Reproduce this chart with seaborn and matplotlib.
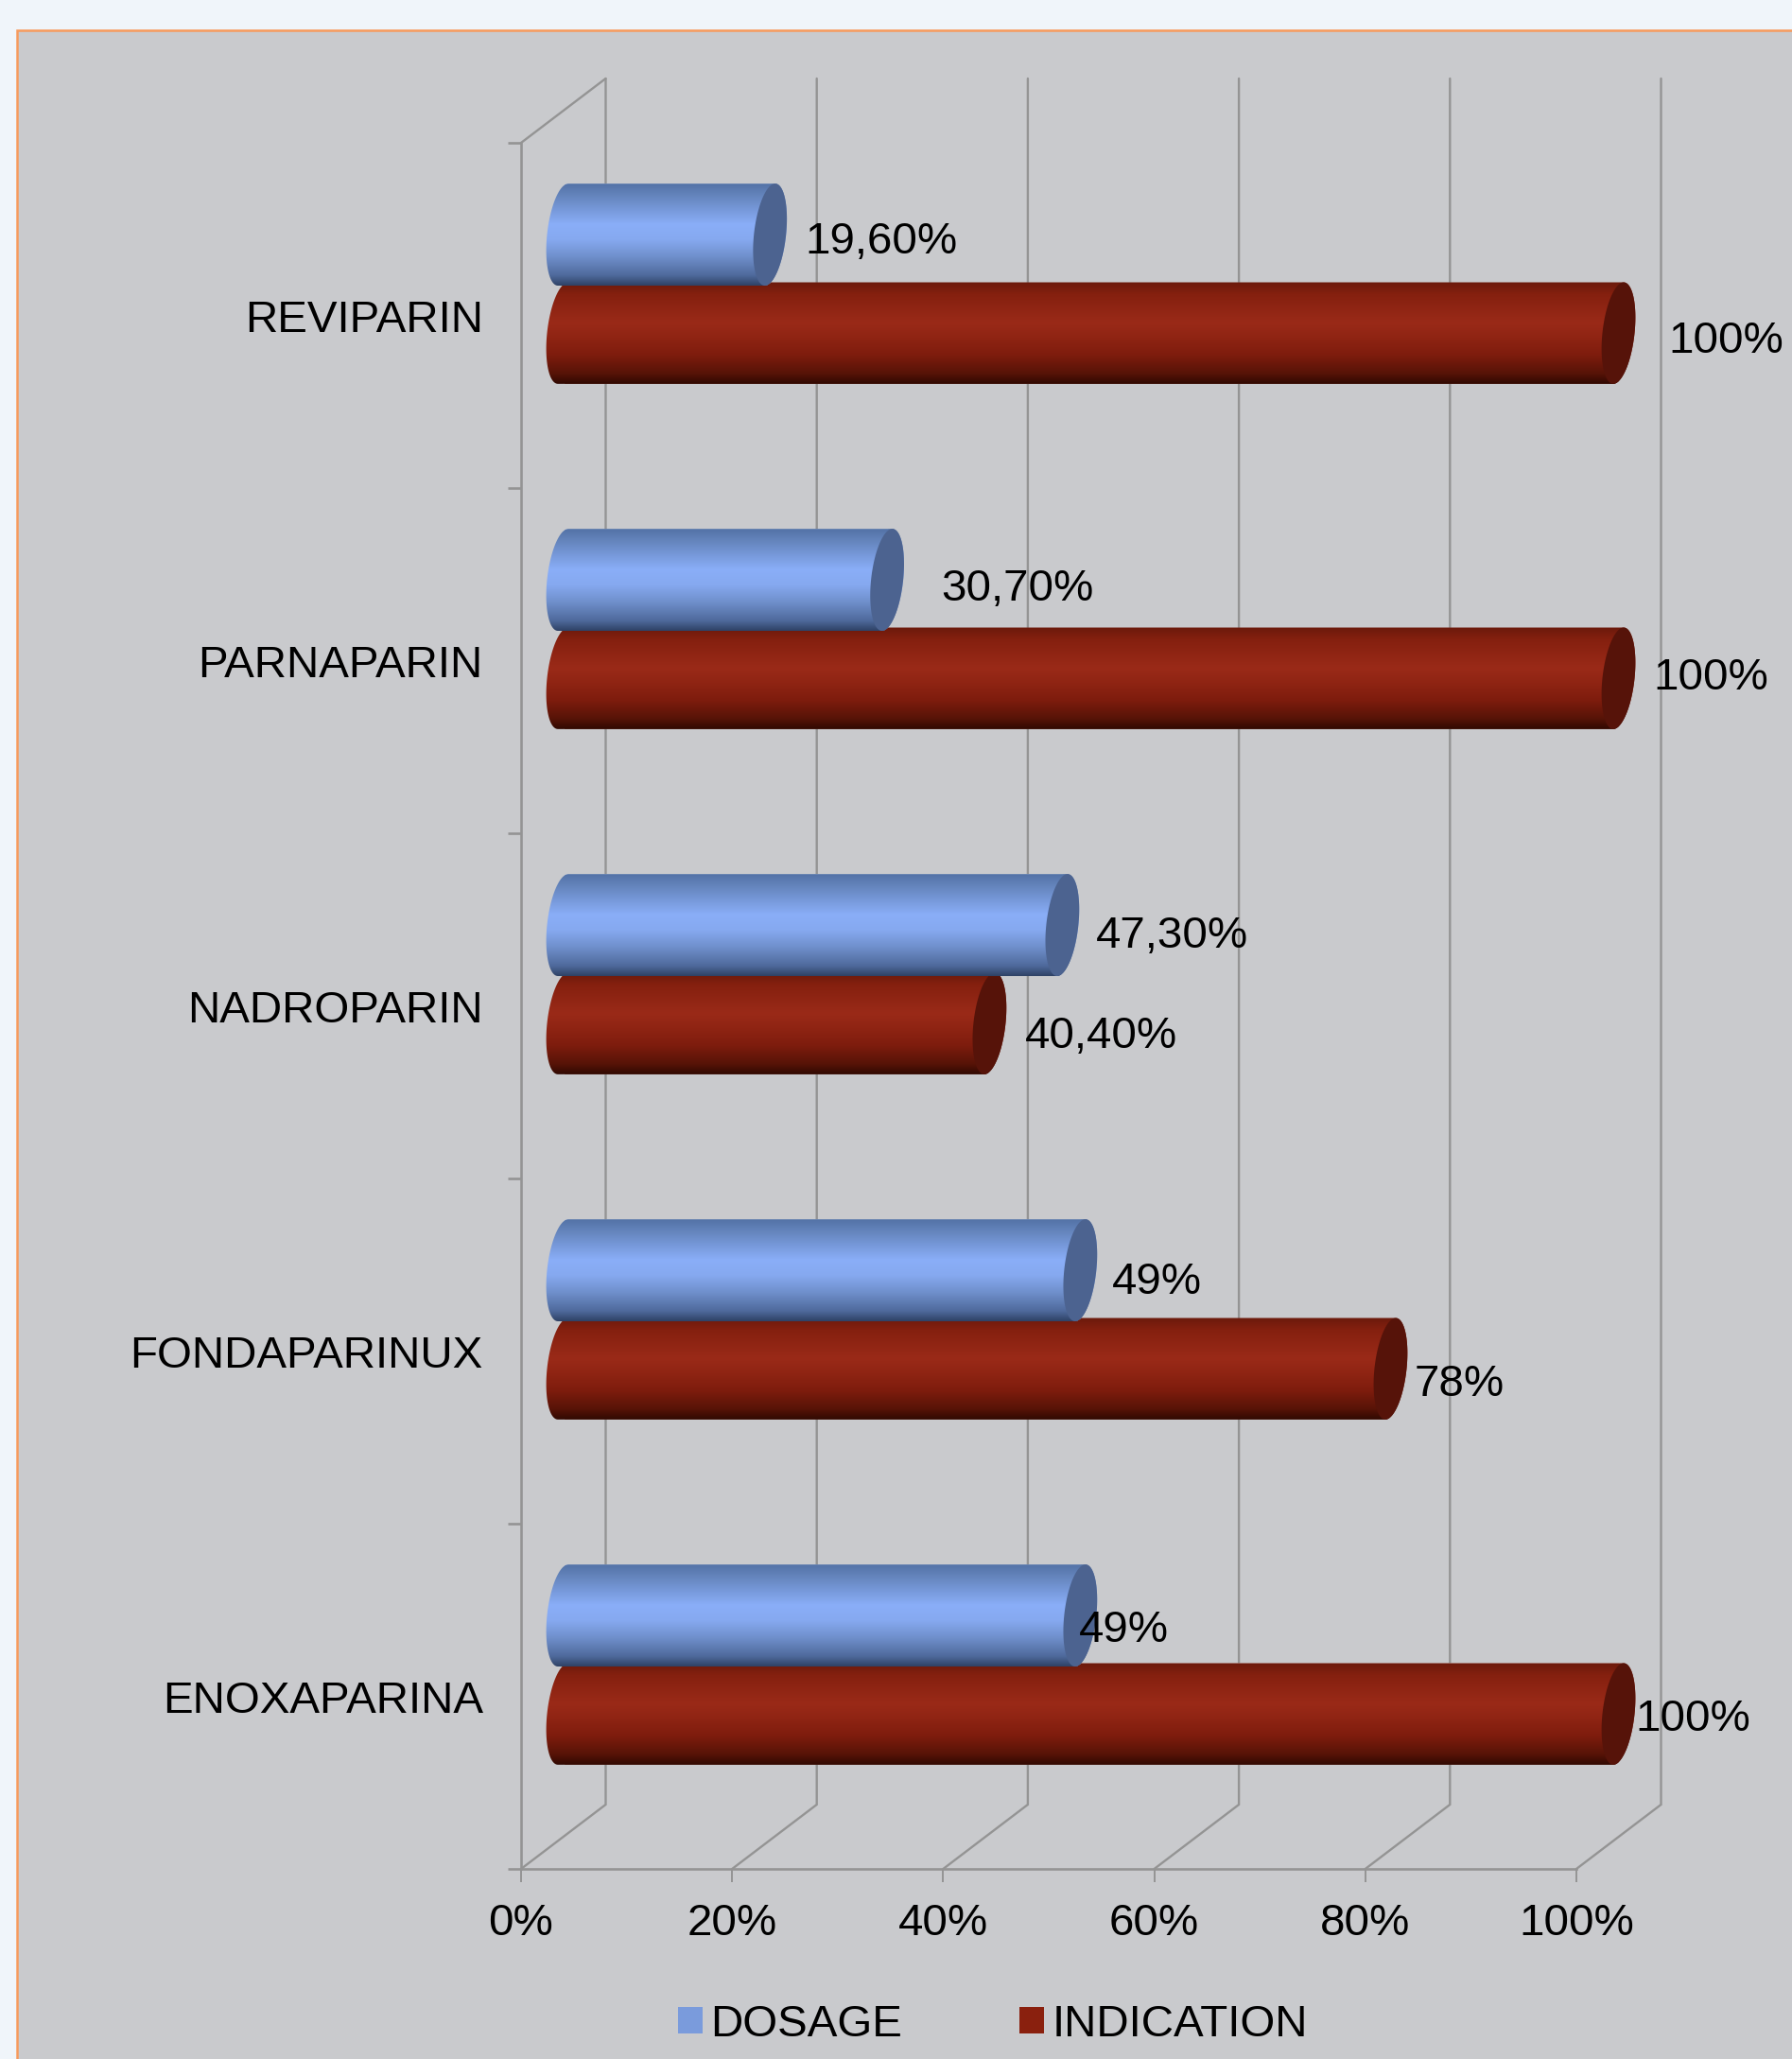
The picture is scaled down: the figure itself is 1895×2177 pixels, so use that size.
import numpy as np
import pandas as pd
import seaborn as sns
import matplotlib
matplotlib.use("Agg")
import matplotlib.pyplot as plt
from matplotlib.colors import LinearSegmentedColormap
from matplotlib.patches import Patch, PathPatch, Rectangle
from matplotlib.path import Path

# ---- data ----
drugs = ["REVIPARIN", "PARNAPARIN", "NADROPARIN", "FONDAPARINUX", "ENOXAPARINA"]
dosage = [19.6, 30.7, 47.3, 49, 49]
indication = [100, 100, 40.4, 78.4, 100]
dosage_labels = ["19,60%", "30,70%", "47,30%", "49%", "49%"]
indication_labels = ["100%", "100%", "40,40%", "78%", "100%"]
series_names = ["DOSAGE", "INDICATION"]
x_ticks = [0, 20, 40, 60, 80, 100]
x_tick_labels = ["0%", "20%", "40%", "60%", "80%", "100%"]

# ---- style ----
W, H = 1895, 2177
FONT = "Liberation Sans"
FS = 34.2
GREY = "#949494"
sns.set_theme(style="white")
plt.rcParams["font.family"] = [FONT, "DejaVu Sans"]

fig = plt.figure(figsize=(W / 100, H / 100), dpi=100, facecolor="#f0f5fa")


def rect_px(x0, y0, x1, y1):
    return [x0 / W, 1 - y1 / H, (x1 - x0) / W, (y1 - y0) / H]


# panel background
fig.add_artist(Rectangle((18 / W, -0.02), 1.02, 1 - 32 / H + 0.02, transform=fig.transFigure,
                         facecolor="#c9cacd", edgecolor="#f79a5c", linewidth=1.8, zorder=-5))

# ---- frame (3-D walls, axis, ticks) ----
FX0, FX1, FY0, FY1 = 551, 1667, 151, 1976
frame = fig.add_axes(rect_px(FX0, FY0, FX1, FY1))
frame.patch.set_alpha(0)
frame.set_xlim(0, 100)
frame.set_ylim(4.5, -0.5)
px_per_pct = (FX1 - FX0) / 100
px_per_cat = (FY1 - FY0) / 5
depth_x = 89.5 / px_per_pct
depth_y = 68 / px_per_cat
for v in x_ticks:
    frame.plot([v, v + depth_x, v + depth_x], [4.5, 4.5 - depth_y, -0.5 - depth_y],
               color=GREY, lw=1.7, clip_on=False, solid_joinstyle="miter", zorder=1)
frame.plot([0, depth_x], [-0.5, -0.5 - depth_y], color=GREY, lw=1.7, clip_on=False, zorder=1)
for s in ["top", "right"]:
    frame.spines[s].set_visible(False)
for s in ["left", "bottom"]:
    frame.spines[s].set_color(GREY)
    frame.spines[s].set_linewidth(1.9)
frame.set_xticks(x_ticks)
frame.set_xticklabels(x_tick_labels, fontsize=FS, color="black", fontfamily=FONT)
frame.tick_params(axis="x", which="major", length=10, width=1.4, color=GREY, pad=16, bottom=True)
frame.set_yticks(np.arange(-0.5, 5, 1))
frame.set_yticklabels([])
frame.set_yticks(np.arange(5), labels=drugs, minor=True, fontsize=FS, color="black", fontfamily=FONT)
frame.tick_params(axis="y", which="major", length=10, width=1.9, color=GREY, left=True)
frame.tick_params(axis="y", which="minor", length=0, pad=29, left=False)

# ---- cylinders ----
BX_SHIFT, BY_SHIFT = 44.5, -33.5
XMIN, XMAX = -5, 112
bar_ax = fig.add_axes(rect_px(FX0 + BX_SHIFT + XMIN * px_per_pct, FY0 + BY_SHIFT,
                              FX0 + BX_SHIFT + XMAX * px_per_pct, FY1 + BY_SHIFT))
bar_ax.patch.set_alpha(0)

df = pd.DataFrame({
    "drug": drugs * 2,
    "value": dosage + indication,
    "series": [series_names[0]] * 5 + [series_names[1]] * 5,
})
sns.barplot(data=df, y="drug", x="value", hue="series", order=drugs, hue_order=series_names,
            palette=["#7a9bdc", "#8a200e"], width=0.58, legend=False, ax=bar_ax, orient="h")
bar_ax.set_xlim(XMIN, XMAX)
bar_ax.set_ylim(4.5, -0.5)
bar_ax.axis("off")

cmaps = [
    LinearSegmentedColormap.from_list("blue", [(0, "#5372a6"), (0.12, "#6585bd"), (0.40, "#8aaef8"),
                                               (0.55, "#86a9f0"), (0.72, "#6f8fcb"), (0.90, "#4f6a9c"),
                                               (1, "#2f4266")]),
    LinearSegmentedColormap.from_list("red", [(0, "#6b1a0c"), (0.12, "#85200f"), (0.40, "#9a2a18"),
                                              (0.55, "#8f2413"), (0.72, "#7d1c0d"), (0.90, "#561307"),
                                              (1, "#300902")]),
]
cap_colors = ["#4c6390", "#561309"]
layers = [5, 3]
grad = np.linspace(0, 1, 256).reshape(-1, 1)
ELL_A = 17.0 / px_per_pct
ELL_K = 5.5 / px_per_pct
OVERLAP = [(0.0, 2.0 / px_per_cat), (1.5 / px_per_cat, 0.0)]


def half(cx, cy, b, t):
    return np.column_stack([cx + ELL_A * np.cos(t) - ELL_K * np.sin(t), cy + b * np.sin(t)])


label_offsets = [
    [(37, 8), (57.6, 10), (36, 12), (33.6, 13), (-1, 16)],
    [(53, 9), (36.5, 0), (38, 14), (25, 17), (18, 6)],
]
label_texts = [dosage_labels, indication_labels]

for i, container in enumerate(bar_ax.containers):
    for j, bar in enumerate(container.patches):
        grow_top, grow_bottom = OVERLAP[i]
        bar.set_y(bar.get_y() - grow_top)
        bar.set_height(bar.get_height() + grow_top + grow_bottom)
        y0, h, v = bar.get_y(), bar.get_height(), bar.get_width()
        cy, b = y0 + h / 2, h / 2
        right = half(v, cy, b, np.linspace(np.pi / 2, -np.pi / 2, 60))
        left = half(0, cy, b, np.linspace(-np.pi / 2, -3 * np.pi / 2, 60))
        body = Path(np.vstack([right, left, right[:1]]), closed=False)
        clip = PathPatch(body, transform=bar_ax.transData, facecolor="none", edgecolor="none")
        bar_ax.add_patch(clip)
        bar.set_clip_path(clip)
        bar.set_zorder(layers[i] - 1)
        im = bar_ax.imshow(grad, cmap=cmaps[i], aspect="auto", origin="upper", interpolation="bilinear",
                           extent=(-3, v + 3, y0 + h, y0), zorder=layers[i], vmin=0, vmax=1)
        im.set_clip_path(clip)
        cap = half(v, cy, b, np.linspace(0, 2 * np.pi, 120))
        bar_ax.add_patch(PathPatch(Path(cap), facecolor=cap_colors[i], edgecolor="none",
                                   zorder=layers[i] + 0.5))
        dx, dy = label_offsets[i][j]
        bar_ax.annotate(label_texts[i][j], xy=(v, cy), xytext=(dx, -dy), textcoords="offset pixels",
                        ha="left", va="center", fontsize=FS, color="black", fontfamily=FONT, zorder=10)
bar_ax.set_xlim(XMIN, XMAX)
bar_ax.set_ylim(4.5, -0.5)

# ---- legend ----
handles = [Patch(facecolor="#7a9bdc", edgecolor="none", label=series_names[0]),
           Patch(facecolor="#8a200e", edgecolor="none", label=series_names[1])]
fig.legend(handles=handles, loc="center", bbox_to_anchor=(1050 / W, 1 - 2141 / H), ncols=2, frameon=False,
           prop={"family": FONT, "size": FS}, labelcolor="black", handlelength=0.54, handleheight=0.54,
           handletextpad=0.18, columnspacing=2.6, borderpad=0, borderaxespad=0)

fig.savefig("out.png", dpi=100, facecolor=fig.get_facecolor())
